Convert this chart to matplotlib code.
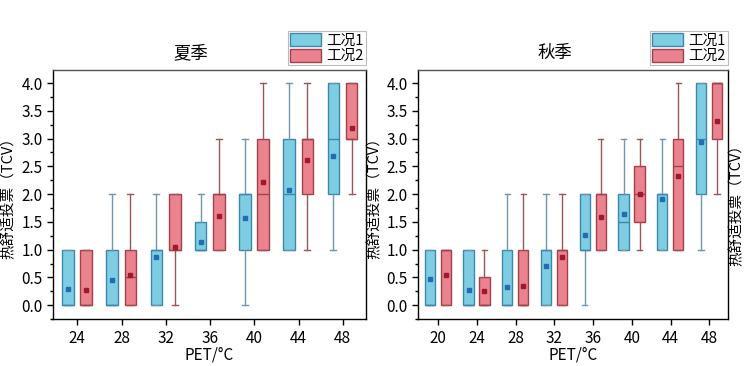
import matplotlib
matplotlib.use('Agg')
import matplotlib.pyplot as plt
from matplotlib.patches import Patch
from matplotlib.ticker import MultipleLocator

plt.rcParams['font.family'] = ['Noto Sans CJK SC', 'DejaVu Sans']
plt.rcParams['axes.unicode_minus'] = False

# ============================================================
# 数据：箱线图统计量 (下须, Q1, 中位数, Q3, 上须, 均值)
# ============================================================
summer_pet = [24, 28, 32, 36, 40, 44, 48]
summer_c1_whislo = [0, 0, 0, 1, 0, 1, 1]
summer_c1_q1 = [0, 0, 0, 1, 1, 1, 2]
summer_c1_med = [0, 0, 1, 1, 2, 2, 3]
summer_c1_q3 = [1, 1, 1, 1.5, 2, 3, 4]
summer_c1_whishi = [1, 2, 2, 2, 3, 4, 4]
summer_c1_mean = [0.30, 0.46, 0.87, 1.14, 1.57, 2.07, 2.69]

summer_c2_whislo = [0, 0, 0, 1, 1, 1, 2]
summer_c2_q1 = [0, 0, 1, 1, 1, 2, 3]
summer_c2_med = [0, 0.5, 1, 2, 2, 3, 3]
summer_c2_q3 = [1, 1, 2, 2, 3, 3, 4]
summer_c2_whishi = [1, 2, 2, 3, 4, 4, 4]
summer_c2_mean = [0.27, 0.54, 1.05, 1.60, 2.21, 2.62, 3.19]

autumn_pet = [20, 24, 28, 32, 36, 40, 44, 48]
autumn_c1_whislo = [0, 0, 0, 0, 0, 1, 1, 1]
autumn_c1_q1 = [0, 0, 0, 0, 1, 1, 1, 2]
autumn_c1_med = [0, 0, 0, 1, 1, 1.5, 2, 3]
autumn_c1_q3 = [1, 1, 1, 1, 2, 2, 2, 4]
autumn_c1_whishi = [1, 1, 2, 2, 2, 3, 3, 4]
autumn_c1_mean = [0.47, 0.28, 0.33, 0.71, 1.27, 1.65, 1.91, 2.93]

autumn_c2_whislo = [0, 0, 0, 0, 1, 1, 1, 2]
autumn_c2_q1 = [0, 0, 0, 0, 1, 1.5, 1, 3]
autumn_c2_med = [1, 0, 0, 1, 2, 2, 2.5, 4]
autumn_c2_q3 = [1, 0.5, 1, 1, 2, 2.5, 3, 4]
autumn_c2_whishi = [1, 1, 2, 2, 3, 3, 4, 4]
autumn_c2_mean = [0.55, 0.25, 0.34, 0.87, 1.58, 2.00, 2.33, 3.31]

# 颜色
C1_FILL, C1_EDGE, C1_WHISK, C1_MEAN = '#7fcde3', '#3f86ad', '#7196ae', '#1f6fb0'
C2_FILL, C2_EDGE, C2_WHISK, C2_MEAN = '#eb838e', '#a2404b', '#9a5555', '#a0182e'

OFFSET_1, OFFSET_2 = -0.85, 0.8
BOX_W, CAP_W = 1.05, 0.55


def make_stats(lo, q1, med, q3, hi, mean):
    return [dict(whislo=a, q1=b, med=c, q3=d, whishi=e, mean=f, fliers=[])
            for a, b, c, d, e, f in zip(lo, q1, med, q3, hi, mean)]


def draw_group(ax, pet, stats, offset, fill, edge, whisk, mean_c):
    pos = [p + offset for p in pet]
    ax.bxp(stats, positions=pos, widths=BOX_W, capwidths=CAP_W,
           patch_artist=True, showmeans=True, showfliers=False,
           boxprops=dict(facecolor=fill, edgecolor=edge, linewidth=1.0),
           medianprops=dict(color=edge, linewidth=1.0),
           whiskerprops=dict(color=whisk, linewidth=1.0),
           capprops=dict(color=whisk, linewidth=1.0),
           meanprops=dict(marker='s', markersize=2.5, markerfacecolor=mean_c,
                          markeredgecolor=mean_c))


def setup_axes(ax, pet, title, xlim):
    ax.set_xlim(*xlim)
    ax.set_ylim(-0.25, 4.23)
    ax.set_xticks(pet)
    ax.set_xticklabels([str(p) for p in pet])
    ax.yaxis.set_major_locator(MultipleLocator(0.5))
    ax.yaxis.set_minor_locator(MultipleLocator(0.25))
    ax.yaxis.set_major_formatter(matplotlib.ticker.FormatStrFormatter('%.1f'))
    ax.tick_params(axis='both', which='major', direction='out', length=4,
                   labelsize=11, width=1)
    ax.tick_params(axis='y', which='minor', direction='out', length=2, width=1)
    ax.tick_params(axis='x', which='minor', bottom=False)
    for s in ax.spines.values():
        s.set_linewidth(1.0)
    ax.spines['top'].set_color('#555555')
    ax.set_title(title, fontsize=12.5, x=0.44, pad=9)
    ax.set_xlabel('PET/°C', fontsize=11, labelpad=0)
    ax.set_ylabel('热舒适投票（TCV）', fontsize=10.5)
    ax.yaxis.set_label_coords(-0.118, 0.5)
    handles = [Patch(facecolor=C1_FILL, edgecolor=C1_EDGE, label='工况1'),
               Patch(facecolor=C2_FILL, edgecolor=C2_EDGE, label='工况2')]
    leg = ax.legend(handles=handles, loc='lower right', bbox_to_anchor=(1.0, 1.02),
                    fontsize=10.5, frameon=True, fancybox=False, borderpad=0.15,
                    handlelength=2.1, handleheight=1.0, labelspacing=0.05,
                    handletextpad=0.4, borderaxespad=0)
    leg.get_frame().set_edgecolor('#aaaaaa')
    leg.get_frame().set_linewidth(0.8)


fig = plt.figure(figsize=(7.47, 3.66), dpi=100)
ax1 = fig.add_axes([0.071, 0.128, 0.419, 0.680])
ax2 = fig.add_axes([0.5596, 0.128, 0.415, 0.680])

draw_group(ax1, summer_pet,
           make_stats(summer_c1_whislo, summer_c1_q1, summer_c1_med, summer_c1_q3,
                      summer_c1_whishi, summer_c1_mean),
           OFFSET_1, C1_FILL, C1_EDGE, C1_WHISK, C1_MEAN)
draw_group(ax1, summer_pet,
           make_stats(summer_c2_whislo, summer_c2_q1, summer_c2_med, summer_c2_q3,
                      summer_c2_whishi, summer_c2_mean),
           OFFSET_2, C2_FILL, C2_EDGE, C2_WHISK, C2_MEAN)
setup_axes(ax1, summer_pet, '夏季', (21.8, 50.1))

draw_group(ax2, autumn_pet,
           make_stats(autumn_c1_whislo, autumn_c1_q1, autumn_c1_med, autumn_c1_q3,
                      autumn_c1_whishi, autumn_c1_mean),
           OFFSET_1, C1_FILL, C1_EDGE, C1_WHISK, C1_MEAN)
draw_group(ax2, autumn_pet,
           make_stats(autumn_c2_whislo, autumn_c2_q1, autumn_c2_med, autumn_c2_q3,
                      autumn_c2_whishi, autumn_c2_mean),
           OFFSET_2, C2_FILL, C2_EDGE, C2_WHISK, C2_MEAN)
setup_axes(ax2, autumn_pet, '秋季', (17.94, 49.93))

# 右侧被裁切的下一幅图的纵轴标题
fig.text(0.986, 0.45, '热舒适投票（TCV）', rotation=90, ha='center', va='center',
         fontsize=10.5)

fig.savefig('out.png', dpi=100)
